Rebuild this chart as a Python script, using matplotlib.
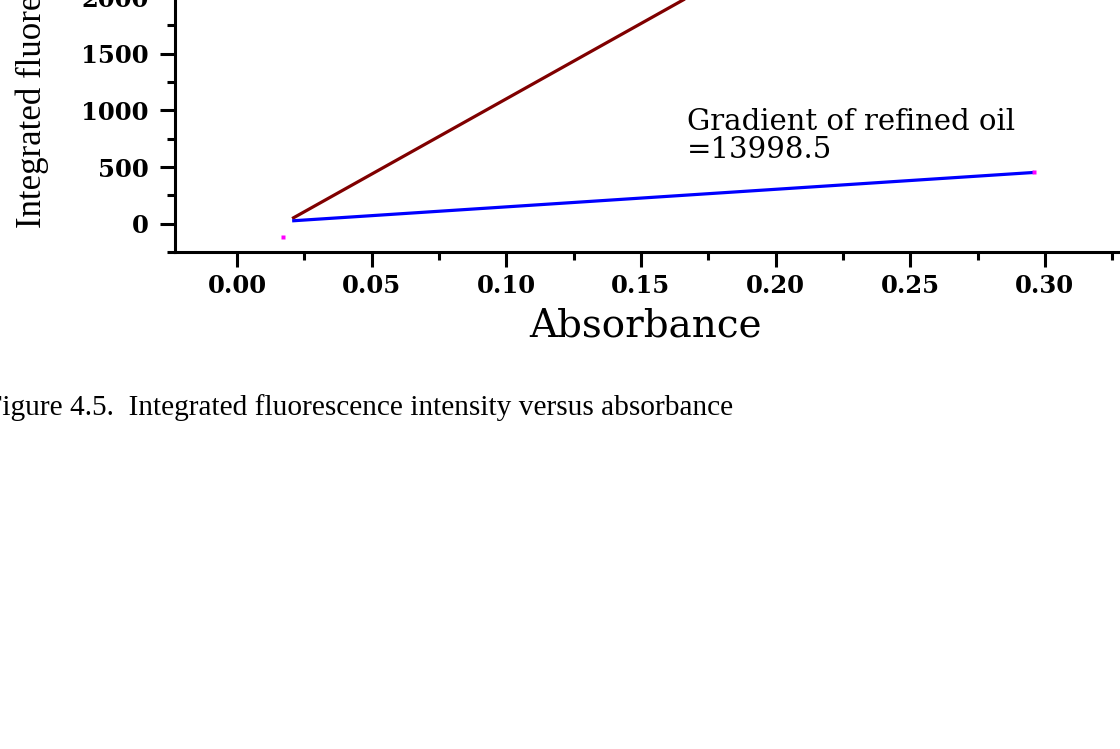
import numpy as np
from matplotlib import pyplot as plt
from matplotlib.ticker import MultipleLocator, FormatStrFormatter

# Fitted lines (absorbance vs integrated fluorescence)
crude_x = [0.0205, 0.20]
crude_y = [45, 2430]
refined_x = [0.0205, 0.296]
refined_y = [25, 452]

# Measured points (small magenta dots)
points_x = [0.017, 0.296]
points_y = [-120, 455]

gradient_label = "Gradient of refined oil\n=13998.5"
x_label = "Absorbance"
y_label = "Integrated fluorescence intensity"
caption = "Figure 4.5.  Integrated fluorescence intensity versus absorbance"

W, H = 1120, 749
fig = plt.figure(figsize=(W / 100, H / 100), dpi=100)

# axes placed in pixel terms; top part runs off the page like the scan
left_px, bottom_px = 175, 252
x_min, x_max = -0.023, 0.34
y_min, y_max = -250, 3000
px_per_x = 2693.0
px_per_y = 0.11333
ax_w = (x_max - x_min) * px_per_x
ax_h = (y_max - y_min) * px_per_y
ax = fig.add_axes([left_px / W, (H - bottom_px) / H, ax_w / W, ax_h / H])

ax.plot(crude_x, crude_y, color='#800000', lw=2.3, solid_capstyle='butt')
ax.plot(refined_x, refined_y, color='#0000ff', lw=2.3, solid_capstyle='butt')
ax.plot(points_x, points_y, ls='none', marker='s', ms=2.6, color='#ff00ff', mec='none')

ax.set_xlim(x_min, x_max)
ax.set_ylim(y_min, y_max)

ax.xaxis.set_major_locator(MultipleLocator(0.05))
ax.xaxis.set_minor_locator(MultipleLocator(0.025))
ax.xaxis.set_major_formatter(FormatStrFormatter('%.2f'))
ax.yaxis.set_major_locator(MultipleLocator(500))
ax.yaxis.set_minor_locator(MultipleLocator(250))

for s in ax.spines.values():
    s.set_linewidth(2.2)
ax.tick_params(which='major', direction='out', length=11, width=2.2)
ax.tick_params(which='minor', direction='out', length=6, width=2.2)
ax.tick_params(axis='y', which='major', pad=8)
ax.tick_params(axis='x', which='major', pad=5)
for lab in ax.get_xticklabels() + ax.get_yticklabels():
    lab.set_fontfamily('DejaVu Serif')
    lab.set_fontweight('bold')
    lab.set_fontsize(17.5)

ax.text(0.1671, 1020, gradient_label, fontfamily='DejaVu Serif', fontsize=21,
        ha='left', va='top', linespacing=1.0)


def fx(px):
    return px / W


def fy(py):
    return 1 - py / H


fig.text(fx(646), fy(326), x_label, fontfamily='DejaVu Serif', fontsize=28,
         ha='center', va='center')
fig.text(fx(32), fy(228), y_label, fontfamily='Liberation Serif', fontsize=25,
         rotation=90, ha='center', va='bottom')
fig.text(fx(-14), fy(415), caption, fontfamily='Liberation Serif', fontsize=21.2,
         ha='left', va='baseline')

fig.savefig('out.png', dpi=100)
